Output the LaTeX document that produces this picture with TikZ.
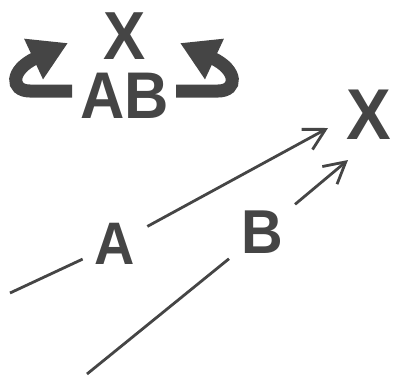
\documentclass[tikz,border=0pt]{standalone}
\usepackage{fontspec}
\setmainfont{Liberation Sans}[FakeStretch=0.93]
\usetikzlibrary{arrows.meta}
\definecolor{ink}{gray}{0.27}
\tikzset{
  letter/.style={font=\bfseries\fontsize{#1pt}{#1pt}\selectfont, text=ink, inner sep=0pt},
  turn/.style={ink, line width=13pt, -{Triangle[length=38pt,width=42pt]}},
  link/.style={ink, line width=2.8pt, -{Straight Barb[length=21pt,width=23pt]}}
}
\begin{document}
\begin{tikzpicture}[x=1pt, y=-1pt]
\useasboundingbox (0,0) rectangle (393,376);
% top: the pair and its swap
\node[letter=68] (xtop) at (125,36) {X};
\node[letter=66] (ab) at (125,96) {AB};

\draw[turn] (72,91) -- (30,91) .. controls (10,91) and (10,70) .. (68,43);
\draw[turn] (176,91) -- (218,91) .. controls (238,91) and (238,70) .. (180,43);

% bottom: two ways into X
\node[letter=72] (x) at (369,115) {X};
\node[letter=60, inner sep=12pt] (a) at (115,244) {A};
\node[letter=62, inner sep=12pt] (b) at (262,232) {B};

\coordinate (a0) at (10,293);
\coordinate (b0) at (87,374);
\coordinate (atip) at (328,128);
\coordinate (btip) at (348,160);

\draw[link, -] (a0) -- (a);
\draw[link] (a) -- (atip);
\draw[link, -] (b0) -- (b);
\draw[link] (b) -- (btip);
\end{tikzpicture}
\end{document}
